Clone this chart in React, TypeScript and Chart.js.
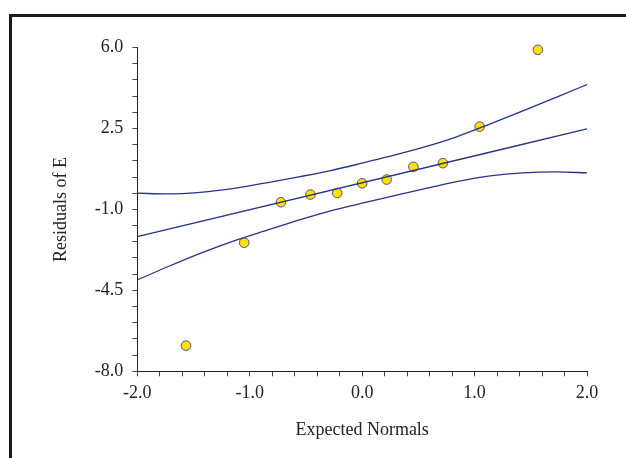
import React, { useEffect, useRef } from "react";
import { Chart, registerables } from "chart.js";

Chart.register(...registerables);

// Observed residuals vs expected normals
const expectedNormals = [-1.567, -1.049, -0.723, -0.46, -0.222, 0.0, 0.218, 0.456, 0.718, 1.045, 1.563];
const residuals = [-6.89, -2.44, -0.69, -0.36, -0.29, 0.13, 0.29, 0.84, 1.0, 2.58, 5.9];

// Reference (fit) line
const fitX = [-2.0, 2.0];
const fitY = [-2.18, 2.48];

// Upper confidence band
const upperX = [-2.0, -1.73, -1.44, -1.14, -0.84, -0.55, -0.28, 0.0, 0.25, 0.54, 0.84, 1.14, 1.43, 1.73, 2.0];
const upperY = [-0.3, -0.33, -0.26, -0.09, 0.16, 0.42, 0.68, 1.0, 1.3, 1.68, 2.14, 2.7, 3.26, 3.85, 4.4];

// Lower confidence band
const lowerX = [-2.0, -1.73, -1.44, -1.14, -0.84, -0.55, -0.28, 0.0, 0.25, 0.51, 0.84, 1.14, 1.43, 1.73, 2.0];
const lowerY = [-4.05, -3.48, -2.9, -2.36, -1.89, -1.44, -1.06, -0.73, -0.45, -0.16, 0.2, 0.45, 0.58, 0.62, 0.58];

// Axes
const xMin = -2.0;
const xMax = 2.0;
const xStep = 0.2;
const xLabels = [-2.0, -1.0, 0.0, 1.0, 2.0];
const yMin = -8.0;
const yMax = 6.0;
const yStep = 0.7;
const yLabels = [-8.0, -4.5, -1.0, 2.5, 6.0];

const xTitle = "Expected Normals";
const yTitle = "Residuals of E";

const FONT = "'Liberation Serif', 'Times New Roman', Times, serif";
const LINE_COLOR = "#27338a";

const toPts = (xs: number[], ys: number[]) => xs.map((x, i) => ({ x, y: ys[i] }));
const labelFor = (labels: number[]) => (v: number | string) => {
  const n = Number(v);
  const m = labels.find((t) => Math.abs(t - n) < 1e-6);
  return m === undefined ? "" : m.toFixed(1);
};

export default function App() {
  const ref = useRef<HTMLCanvasElement | null>(null);

  useEffect(() => {
    if (!ref.current) return;
    const lineDs = (xs: number[], ys: number[]) => ({
      type: "line" as const,
      data: toPts(xs, ys),
      showLine: true,
      borderColor: LINE_COLOR,
      borderWidth: 1.3,
      pointRadius: 0,
      pointHoverRadius: 0,
      fill: false,
      cubicInterpolationMode: "monotone" as const,
      order: 0,
    });
    const chart = new Chart(ref.current, {
      type: "scatter",
      data: {
        datasets: [
          lineDs(upperX, upperY),
          lineDs(fitX, fitY),
          lineDs(lowerX, lowerY),
          {
            type: "scatter",
            data: toPts(expectedNormals, residuals),
            backgroundColor: "#ffe000",
            borderColor: "#4b5482",
            borderWidth: 1,
            pointRadius: 4.8,
            clip: false,
            order: 1,
          } as any,
        ],
      },
      options: {
        animation: false,
        responsive: false,
        events: [],
        layout: { padding: { left: 0, right: 39, top: 47.5, bottom: 0 } },
        plugins: { legend: { display: false }, tooltip: { enabled: false } },
        scales: {
          x: {
            type: "linear",
            min: xMin,
            max: xMax,
            afterFit: (s: any) => {
              s.height = 86.7;
            },
            ticks: {
              stepSize: xStep,
              autoSkip: false,
              maxRotation: 0,
              padding: 6,
              color: "#222",
              font: { family: FONT, size: 18 },
              callback: labelFor(xLabels),
            },
            grid: { drawOnChartArea: false, drawTicks: true, tickLength: 5, color: "#444" },
            border: { display: true, color: "#222", width: 1 },
            title: {
              display: true,
              text: xTitle,
              color: "#222",
              font: { family: FONT, size: 18 },
              padding: { top: 0, bottom: 17 },
            },
          },
          y: {
            type: "linear",
            min: yMin,
            max: yMax,
            afterFit: (s: any) => {
              s.width = 137.3;
            },
            ticks: {
              stepSize: yStep,
              autoSkip: false,
              padding: 9,
              color: "#222",
              font: { family: FONT, size: 18 },
              callback: labelFor(yLabels),
            },
            grid: { drawOnChartArea: false, drawTicks: true, tickLength: 5, color: "#444" },
            border: { display: true, color: "#222", width: 1 },
            title: {
              display: true,
              text: yTitle,
              color: "#222",
              font: { family: FONT, size: 18 },
              padding: { top: 50, bottom: 0 },
            },
          },
        },
      },
    });
    return () => chart.destroy();
  }, []);

  return (
    <div style={{ position: "absolute", left: 0, top: 0, width: 626, height: 458, background: "#fff", overflow: "hidden" }}>
      <div
        style={{
          position: "absolute",
          left: 9,
          top: 14,
          width: 617,
          height: 444,
          boxSizing: "border-box",
          borderTop: "3px solid #1a1a1a",
          borderLeft: "3px solid #1a1a1a",
        }}
      />
      <canvas ref={ref} width={626} height={458} style={{ position: "absolute", left: 0, top: 0, width: 626, height: 458 }} />
    </div>
  );
}
